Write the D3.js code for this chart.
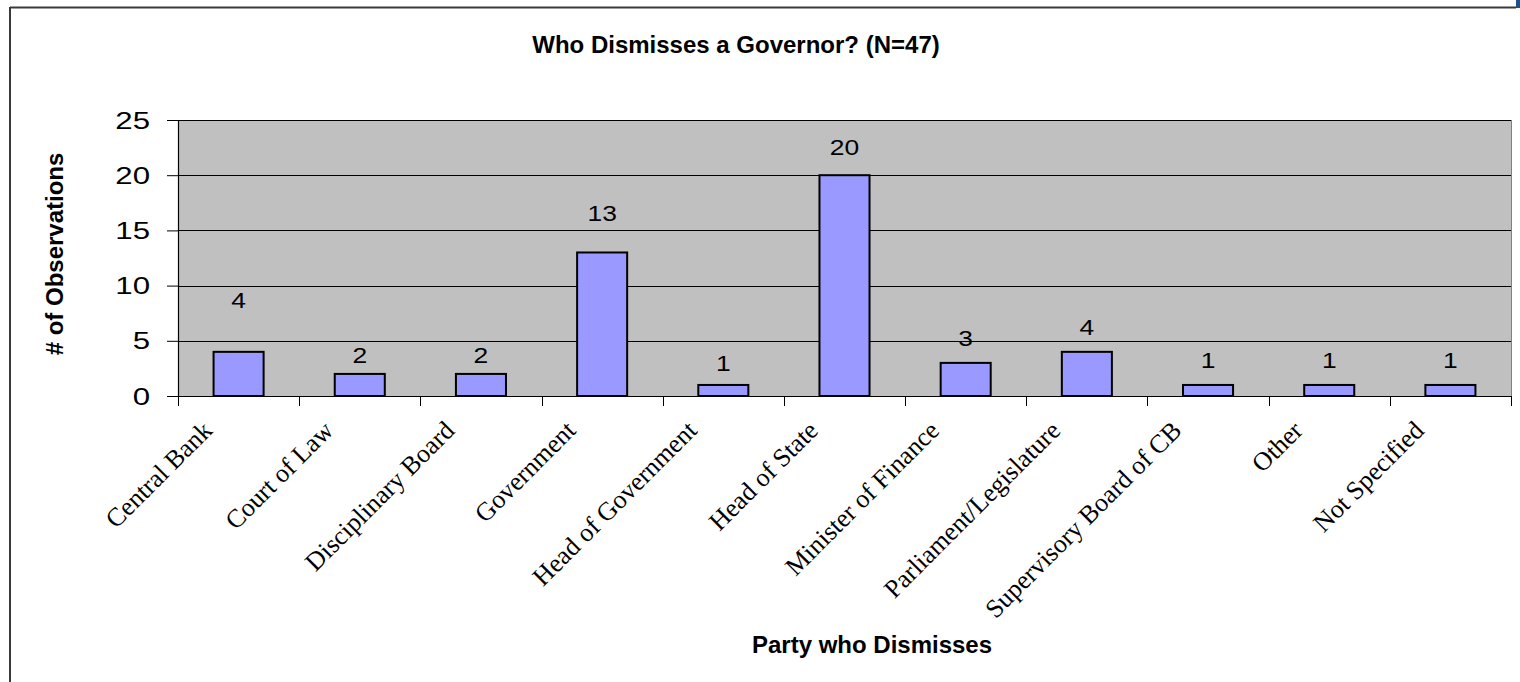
<!DOCTYPE html>
<html>
<head>
<meta charset="utf-8">
<script src="https://cdn.jsdelivr.net/npm/d3@7"></script>
<style>
  html, body { margin: 0; padding: 0; background: #fff; }
  svg { display: block; }
</style>
</head>
<body>
<svg id="chart" width="1520" height="682"></svg>
<script>
// Parties that can dismiss a central bank governor, with counts
const categories = [
  "Central Bank", "Court of Law", "Disciplinary Board", "Government",
  "Head of Government", "Head of State", "Minister of Finance",
  "Parliament/Legislature", "Supervisory Board of CB", "Other", "Not Specified"
];
const counts = [4, 2, 2, 13, 1, 20, 3, 4, 1, 1, 1];
const yTicks = [0, 5, 10, 15, 20, 25];

const titleText = "Who Dismisses a Governor? (N=47)";
const xTitle = "Party who Dismisses";
const yTitle = "# of Observations";

// Layout: how far each value label's baseline sits above its bar (px)
const labelLift = [44, 11, 11, 31, 14, 20, 17, 17, 17, 17, 17];

const W = 1520, H = 682;
const plot = { left: 178, right: 1511, top: 120, bottom: 396 };
const svg = d3.select("#chart");

const sans = "'Liberation Sans', Arial, sans-serif";
const serif = "'Liberation Serif', 'Times New Roman', serif";

// Outer frame: top and left rules, small accent at the corner
svg.append("rect").attr("x", 1516).attr("y", 0).attr("width", 4).attr("height", 8).attr("fill", "#1f4f8f");
svg.append("line").attr("x1", 10).attr("x2", 1516).attr("y1", 7.5).attr("y2", 7.5)
  .attr("stroke", "#3a3a3a").attr("stroke-width", 2);
svg.append("line").attr("x1", 10).attr("x2", 10).attr("y1", 7).attr("y2", H)
  .attr("stroke", "#3a3a3a").attr("stroke-width", 2);

// Scales
const pad = 0.587;
const x = d3.scaleBand().domain(categories)
  .range([plot.left, plot.right]).paddingInner(pad).paddingOuter(pad / 2);
const y = d3.scaleLinear().domain([0, 25]).range([plot.bottom, plot.top]);
const step = x.step();

// Plot background
svg.append("rect")
  .attr("x", plot.left).attr("y", plot.top)
  .attr("width", plot.right - plot.left).attr("height", plot.bottom - plot.top)
  .attr("fill", "#c0c0c0");
svg.append("line").attr("x1", plot.right + 0.5).attr("x2", plot.right + 0.5)
  .attr("y1", plot.top).attr("y2", plot.bottom).attr("stroke", "#808080").attr("stroke-width", 1);

// Horizontal gridlines
svg.append("g").selectAll("line").data(yTicks.filter(d => d > 0)).join("line")
  .attr("x1", plot.left).attr("x2", plot.right)
  .attr("y1", d => Math.round(y(d)) + 0.5).attr("y2", d => Math.round(y(d)) + 0.5)
  .attr("stroke", "#000").attr("stroke-width", 1);

// Y axis: ticks from d3, labels drawn slightly widened
const yAxis = d3.axisLeft(y).tickValues(yTicks).tickSize(11).tickFormat("");
const gy = svg.append("g").attr("transform", `translate(${plot.left},0)`).call(yAxis);
gy.select(".domain").attr("stroke", "#000").attr("stroke-width", 1.2);
gy.selectAll(".tick line").attr("stroke", "#000");
svg.append("g").selectAll("text").data(yTicks).join("text")
  .attr("transform", d => `translate(150,${y(d) + 8.5}) scale(1.3,1)`)
  .attr("text-anchor", "end")
  .attr("font-family", sans).attr("font-size", 24).attr("fill", "#000")
  .text(d => d);

// X axis baseline and category boundary ticks
svg.append("line").attr("x1", plot.left - 11).attr("x2", plot.right)
  .attr("y1", plot.bottom + 0.5).attr("y2", plot.bottom + 0.5).attr("stroke", "#000").attr("stroke-width", 1.2);
const bounds = d3.range(categories.length + 1).map(i => plot.left + i * step);
svg.append("g").selectAll("line").data(bounds).join("line")
  .attr("x1", d => Math.round(d) + 0.5).attr("x2", d => Math.round(d) + 0.5)
  .attr("y1", plot.bottom).attr("y2", plot.bottom + 10)
  .attr("stroke", "#000").attr("stroke-width", 1);

// Bars
svg.append("g").selectAll("rect").data(counts).join("rect")
  .attr("x", (d, i) => x(categories[i]))
  .attr("y", d => y(d))
  .attr("width", x.bandwidth())
  .attr("height", d => y(0) - y(d))
  .attr("fill", "#9999ff")
  .attr("stroke", "#000").attr("stroke-width", 2);

// Value labels
svg.append("g").selectAll("text").data(counts).join("text")
  .attr("transform", (d, i) => `translate(${x(categories[i]) + x.bandwidth() / 2},${y(d) - labelLift[i]}) scale(1.2,1)`)
  .attr("text-anchor", "middle")
  .attr("font-family", sans).attr("font-size", 22).attr("fill", "#000")
  .text(d => d);

// Rotated category labels
svg.append("g").selectAll("text").data(categories).join("text")
  .attr("transform", d => `translate(${x(d) + x.bandwidth() / 2 - 25},${plot.bottom + 36}) rotate(-45)`)
  .attr("text-anchor", "end")
  .attr("font-family", serif).attr("font-size", 26).attr("fill", "#000")
  .text(d => d);

// Titles
svg.append("text").attr("x", 736).attr("y", 53).attr("text-anchor", "middle")
  .attr("font-family", sans).attr("font-weight", "bold").attr("font-size", 24).text(titleText);
svg.append("text").attr("x", 872).attr("y", 653).attr("text-anchor", "middle")
  .attr("font-family", sans).attr("font-weight", "bold").attr("font-size", 24).text(xTitle);
svg.append("text").attr("transform", "translate(63,254) rotate(-90)").attr("text-anchor", "middle")
  .attr("font-family", sans).attr("font-weight", "bold").attr("font-size", 24).text(yTitle);
</script>
</body>
</html>
